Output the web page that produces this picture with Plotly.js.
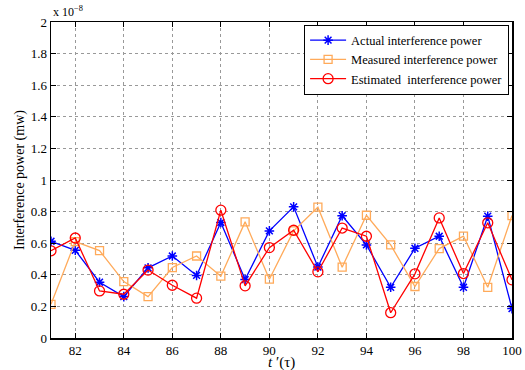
<!DOCTYPE html>
<html>
<head>
<meta charset="utf-8">
<script src="https://cdn.plot.ly/plotly-3.0.1.min.js"></script>
<style>html,body{margin:0;padding:0;background:#fff}#chart{width:525px;height:370px}</style>
</head>
<body>
<div id="chart"></div>
<script>
// time slots t'
const tSlots = [81,82,83,84,85,86,87,88,89,90,91,92,93,94,95,96,97,98,99,100];
// values in units of 1e-8 mW
const actualPower = [0.612,0.555,0.353,0.262,0.444,0.519,0.396,0.731,0.370,0.678,0.830,0.449,0.774,0.589,0.321,0.568,0.644,0.321,0.771,0.186];
const measuredPower = [0.213,0.610,0.553,0.357,0.262,0.446,0.519,0.391,0.735,0.372,0.678,0.828,0.448,0.777,0.589,0.326,0.566,0.645,0.321,0.775];
const estimatedPower = [0.552,0.633,0.298,0.277,0.430,0.334,0.252,0.809,0.330,0.572,0.682,0.419,0.696,0.644,0.160,0.406,0.760,0.408,0.729,0.368];
const seriesNames = ["Actual interference power","Measured interference power","Estimated  interference power"];
const xTicks = [82,84,86,88,90,92,94,96,98,100];

const font = "Liberation Serif, Times New Roman, serif";

const traces = [
  {x:tSlots, y:actualPower, name:seriesNames[0], mode:"lines+markers",
   line:{color:"#0000ff", width:1.3},
   marker:{symbol:"asterisk-open", size:8, color:"#0000ff", line:{color:"#0000ff", width:1.5}}},
  {x:tSlots, y:measuredPower, name:seriesNames[1], mode:"lines+markers",
   line:{color:"#ffaa5a", width:1.3},
   marker:{symbol:"square-open", size:8, color:"#ffaa5a", line:{color:"#ffaa5a", width:1.3}}},
  {x:tSlots, y:estimatedPower, name:seriesNames[2], mode:"lines+markers",
   line:{color:"#ff0000", width:1.3},
   marker:{symbol:"circle-open", size:10, color:"#ff0000", line:{color:"#ff0000", width:1.3}}}
];

const layout = {
  width:525, height:370,
  margin:{l:51, r:13, t:22, b:32, autoexpand:false},
  paper_bgcolor:"#fff", plot_bgcolor:"#fff",
  font:{family:font, size:13, color:"#000"},
  showlegend:true,
  legend:{x:0.549, y:0.992, xanchor:"left", yanchor:"top", bgcolor:"#fff",
    bordercolor:"#000", borderwidth:1, font:{family:font, size:12.5, color:"#000"},
    tracegroupgap:0, itemwidth:36},
  xaxis:{range:[81,100], tickvals:xTicks, automargin:false,
    ticks:"inside", ticklen:5, tickcolor:"#000", showline:true, linecolor:"#000", linewidth:1.5,
    mirror:"ticks", showgrid:true, gridcolor:"#999", griddash:"dot", gridwidth:1, zeroline:false,
    tickfont:{family:font, size:13}},
  yaxis:{range:[0,2], dtick:0.2, tick0:0, automargin:false,
    ticks:"inside", ticklen:5, tickcolor:"#000", showline:true, linecolor:"#000", linewidth:1.5,
    mirror:"ticks", showgrid:true, gridcolor:"#999", griddash:"dot", gridwidth:1, zeroline:false,
    tickfont:{family:font, size:13}},
  annotations:[
    {text:"x 10<sup>−8</sup>", xref:"paper", yref:"paper", x:0, y:1, xanchor:"left", yanchor:"bottom",
     showarrow:false, font:{family:font, size:12}, yshift:1},
    {text:"<i>t</i> ′(τ)", xref:"paper", yref:"paper", x:0.5, y:0, xanchor:"center", yanchor:"middle",
     showarrow:false, font:{family:font, size:15}, yshift:-24},
    {text:"Interference power (mw)", xref:"paper", yref:"paper", x:0, y:0.5, xanchor:"center", yanchor:"middle",
     textangle:-90, showarrow:false, font:{family:font, size:14}, xshift:-31}
  ]
};

Plotly.newPlot("chart", traces, layout, {displayModeBar:false, staticPlot:true});
</script>
</body>
</html>
